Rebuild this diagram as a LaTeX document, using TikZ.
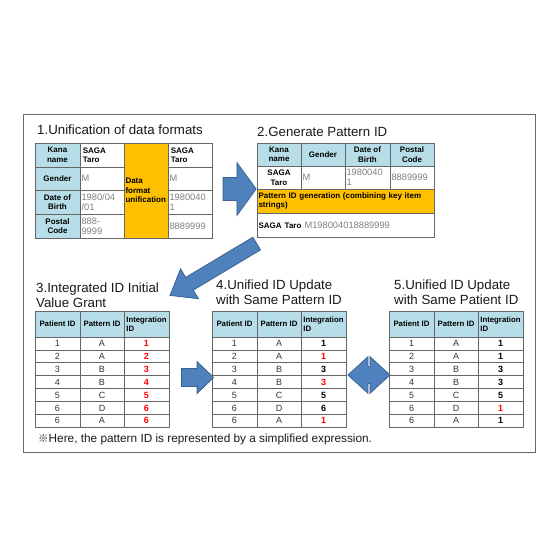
\documentclass[tikz,border=0pt]{standalone}
\usepackage{fontspec}
\setmainfont{Liberation Sans}
\newfontfamily\cjk{Noto Sans CJK JP}
\usetikzlibrary{shapes.arrows}

\definecolor{hdrblue}{HTML}{B7DEE8}
\definecolor{keyorange}{HTML}{FFC000}
\definecolor{arrowblue}{HTML}{4F81BD}
\definecolor{arrowedge}{HTML}{3A6595}
\definecolor{numgray}{HTML}{7F7F7F}
\definecolor{idred}{HTML}{FF0000}

\tikzset{
  frame/.style={draw=black!60, line width=1pt},
  title/.style={inner sep=0pt, align=left, text=black!90,
    font=\fontsize{13.3}{15.5}\selectfont},
  cell/.style={draw=black!60, line width=0.8pt, anchor=north west, outer sep=0pt,
    inner sep=1.5pt, align=center, font=\fontsize{8}{9.5}\selectfont\bfseries},
  hcell/.style={cell, fill=hdrblue},
  lcell/.style={cell, align=left, text width=#1pt, text=numgray,
    font=\fontsize{9.3}{10}\selectfont},
  ncell/.style={cell, minimum height=12.9, inner sep=0pt, text=black!80,
    font=\fontsize{9}{10}\selectfont},
  bigarrow/.style={fill=arrowblue, draw=arrowedge, line width=0.8pt, inner xsep=0pt}
}

\begin{document}
\begin{tikzpicture}[x=1pt, y=-1pt]

\useasboundingbox (0,0) rectangle (560,560);
\draw[frame] (23,114) rectangle (535,452);

% 1. unify the data formats
\node[title, anchor=base west] (tA) at (37,134) {1.Unification of data formats};
\begin{scope}[shift={(35,143)}]
  \node[hcell, minimum width=45, minimum height=24] (kanaA) at (0,0)  {Kana\\name};
  \node[hcell, minimum width=45, minimum height=23] (sexA)  at (0,24) {Gender};
  \node[hcell, minimum width=45, minimum height=24] (dobA)  at (0,47) {Date of\\Birth};
  \node[hcell, minimum width=45, minimum height=24] (zipA)  at (0,71) {Postal\\Code};

  \node[lcell=41, minimum height=24, text=black, font=\fontsize{8}{9.5}\selectfont\bfseries]
    (kanaB) at (45,0) {\,SAGA\\\,Taro};
  \node[lcell=41, minimum height=23] (sexB) at (45,24) {M};
  \node[lcell=41, minimum height=24] (dobB) at (45,47) {1980/04\\/01};
  \node[lcell=41, minimum height=24] (zipB) at (45,71) {888-\\9999};

  \node[lcell=41, minimum height=95, fill=keyorange, text=black,
    font=\fontsize{8}{9.5}\selectfont\bfseries] (unify) at (89,0) {Data\\format\\unification};

  \node[lcell=41, minimum height=24, text=black, font=\fontsize{8}{9.5}\selectfont\bfseries]
    (kanaC) at (133,0) {\,SAGA\\\,Taro};
  \node[lcell=41, minimum height=23] (sexC) at (133,24) {M};
  \node[lcell=41, minimum height=24] (dobC) at (133,47) {1980040\\1};
  \node[lcell=41, minimum height=24] (zipC) at (133,71) {8889999};
\end{scope}

\node[bigarrow, single arrow, minimum height=33, inner ysep=11pt,
  single arrow head extend=15pt, single arrow tip angle=108] (goA) at (235.5,189) {};

% 2. generate the pattern ID
\node[title, anchor=base west] (tB) at (257,136) {2.Generate Pattern ID};
\begin{scope}[shift={(257,143)}]
  \node[hcell, minimum width=44, minimum height=23] (kanaD) at (0,0)   {Kana\\name};
  \node[hcell, minimum width=44, minimum height=23] (sexD)  at (44,0)  {Gender};
  \node[hcell, minimum width=45, minimum height=23] (dobD)  at (88,0)  {Date of\\Birth};
  \node[hcell, minimum width=44, minimum height=23] (zipD)  at (133,0) {Postal\\Code};

  \node[cell, minimum width=44, minimum height=23] (kanaE) at (0,23) {SAGA\\Taro};
  \node[lcell=41, minimum height=23] (sexE) at (44,23)  {M};
  \node[lcell=42, minimum height=23] (dobE) at (88,23)  {1980040\\1};
  \node[lcell=41, minimum height=23] (zipE) at (133,23) {8889999};

  \node[lcell=174, minimum height=24, fill=keyorange, text=black,
    font=\fontsize{8}{9.5}\selectfont\bfseries] (keygen) at (0,46)
    {Pattern ID generation (combining key item\\strings)};
  \node[lcell=174, minimum height=24] (keyout) at (0,70)
    {{\color{black}\fontsize{8}{9.5}\selectfont\bfseries SAGA Taro} M198004018889999};
\end{scope}

\node[bigarrow, single arrow, rotate=210.9, minimum height=101, inner ysep=7pt,
  single arrow head extend=10pt, single arrow tip angle=75] (goB) at (217.5,267) {};

% 3. initial value of the integration ID
\node[title, anchor=north west] (tC) at (36,282.5) {3.Integrated ID Initial\\Value Grant};
\begin{scope}[shift={(35,311)}]
  \node[hcell, minimum width=45, minimum height=26, font=\fontsize{7.8}{9}\selectfont\bfseries] (pidC) at (0,0)  {Patient ID};
  \node[hcell, minimum width=44, minimum height=26, font=\fontsize{7.8}{9}\selectfont\bfseries] (patC) at (45,0) {Pattern ID};
  \node[hcell, minimum width=45, minimum height=26, align=left, font=\fontsize{7.8}{9}\selectfont\bfseries] (iidC) at (89,0) {Integration\\ID};
  \foreach \pid/\pat/\iid/\col [count=\r] in
    {1/A/1/idred, 2/A/2/idred, 3/B/3/idred, 4/B/4/idred, 5/C/5/idred, 6/D/6/idred, 6/A/6/idred}{
    \node[ncell, minimum width=45] (pidC-\r) at (0,{26+12.9*(\r-1)})  {\pid};
    \node[ncell, minimum width=44] (patC-\r) at (45,{26+12.9*(\r-1)}) {\pat};
    \node[ncell, minimum width=45, text=\col, font=\fontsize{9}{10}\selectfont\bfseries]
      (iidC-\r) at (89,{26+12.9*(\r-1)}) {\iid};
  }
\end{scope}

\node[bigarrow, single arrow, minimum height=32, inner ysep=8.5pt,
  single arrow head extend=7pt, single arrow tip angle=88] (goC) at (193,377.5) {};

% 4. update with the same pattern ID
\node[title, anchor=north west] (tD) at (216,279.5) {4.Unified ID Update\\with Same Pattern ID};
\begin{scope}[shift={(212,311)}]
  \node[hcell, minimum width=45, minimum height=26, font=\fontsize{7.8}{9}\selectfont\bfseries] (pidD) at (0,0)  {Patient ID};
  \node[hcell, minimum width=44, minimum height=26, font=\fontsize{7.8}{9}\selectfont\bfseries] (patD) at (45,0) {Pattern ID};
  \node[hcell, minimum width=45, minimum height=26, align=left, font=\fontsize{7.8}{9}\selectfont\bfseries] (iidD) at (89,0) {Integration\\ID};
  \foreach \pid/\pat/\iid/\col [count=\r] in
    {1/A/1/black, 2/A/1/idred, 3/B/3/black, 4/B/3/idred, 5/C/5/black, 6/D/6/black, 6/A/1/idred}{
    \node[ncell, minimum width=45] (pidD-\r) at (0,{26+12.9*(\r-1)})  {\pid};
    \node[ncell, minimum width=44] (patD-\r) at (45,{26+12.9*(\r-1)}) {\pat};
    \node[ncell, minimum width=45, text=\col, font=\fontsize{9}{10}\selectfont\bfseries]
      (iidD-\r) at (89,{26+12.9*(\r-1)}) {\iid};
  }
\end{scope}

\node[bigarrow, double arrow, minimum height=42, inner ysep=8pt,
  double arrow head extend=10pt, double arrow tip angle=85] (goD) at (369,375) {};

% 5. update with the same patient ID
\node[title, anchor=north west] (tE) at (394,279.5) {5.Unified ID Update\\with Same Patient ID};
\begin{scope}[shift={(389,311)}]
  \node[hcell, minimum width=45, minimum height=26, font=\fontsize{7.8}{9}\selectfont\bfseries] (pidE) at (0,0)  {Patient ID};
  \node[hcell, minimum width=44, minimum height=26, font=\fontsize{7.8}{9}\selectfont\bfseries] (patE) at (45,0) {Pattern ID};
  \node[hcell, minimum width=45, minimum height=26, align=left, font=\fontsize{7.8}{9}\selectfont\bfseries] (iidE) at (89,0) {Integration\\ID};
  \foreach \pid/\pat/\iid/\col [count=\r] in
    {1/A/1/black, 2/A/1/black, 3/B/3/black, 4/B/3/black, 5/C/5/black, 6/D/1/idred, 6/A/1/black}{
    \node[ncell, minimum width=45] (pidE-\r) at (0,{26+12.9*(\r-1)})  {\pid};
    \node[ncell, minimum width=44] (patE-\r) at (45,{26+12.9*(\r-1)}) {\pat};
    \node[ncell, minimum width=45, text=\col, font=\fontsize{9}{10}\selectfont\bfseries]
      (iidE-\r) at (89,{26+12.9*(\r-1)}) {\iid};
  }
\end{scope}

% footnote
\node[anchor=base west, inner sep=0pt, text=black!90, font=\fontsize{11.8}{14}\selectfont]
  (note) at (38,442) {{\cjk\fontsize{10.5}{12}\selectfont ※}Here, the pattern ID is represented by a simplified expression.};

\end{tikzpicture}
\end{document}
